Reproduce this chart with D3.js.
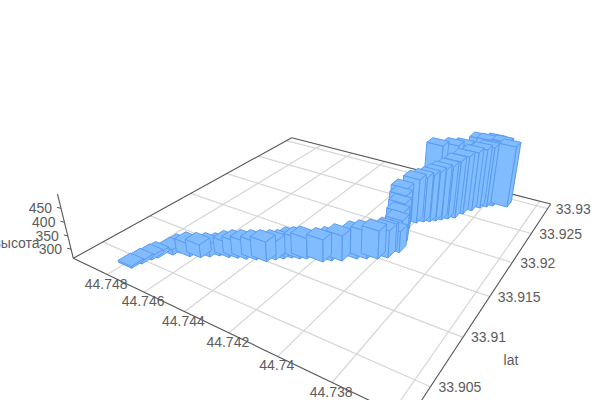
<!DOCTYPE html>
<html><head><meta charset="utf-8"><script src="https://cdn.jsdelivr.net/npm/d3@7"></script>
<style>html,body{margin:0;background:#fff;overflow:hidden}text{font-family:"Liberation Sans",Arial,sans-serif}</style></head>
<body><svg id="c" width="600" height="400"></svg>
<script>
const lon=[44.74792,44.74782,44.7477,44.7476,44.74726,44.74713,44.74661,44.74621,44.74594,44.74566,44.74529,44.74496,44.74463,44.74427,44.74387,44.74364,44.74342,44.74319,44.74289,44.74266,44.74202,44.74177,44.74144,44.74102,44.7407,44.74034,44.74004,
44.74004,44.73985,44.73998,44.74016,44.74031,44.74046,44.74057,44.74026,44.74003,44.73982,44.73963,44.73946,44.73926,44.73904,44.73888,44.73866,44.73844,44.73822,44.73801,44.73745,44.73995,44.73946,44.73912,44.73868,44.73838,44.73811,44.73781];
const lat=[33.90434,33.90514,33.90593,33.90638,33.90731,33.90781,33.90786,33.90821,33.90867,33.90919,33.90942,33.90971,33.90997,33.91031,33.91055,33.91112,33.91156,33.912,33.91223,33.91252,33.91285,33.91333,33.91375,33.91461,33.91502,33.91548,33.91602,
33.91634,33.91718,33.91795,33.9188,33.91968,33.92043,33.92106,33.92204,33.92253,33.92286,33.92324,33.92366,33.92411,33.9246,33.92563,33.9266,33.92746,33.92796,33.92844,33.92894,33.9249,33.92595,33.9266,33.92825,33.92841,33.92898,33.92914];
const height=[272,275,278,280,286,292,313,314,311,307,321,327,331,333,339,333,330,337,341,343,348,348,359,363,367,370,367,
367,345,365,374,386,399,412,436,440,446,455,463,471,487,492,497,499,503,500,507,524,518,514,521,520,517,513];
const lonTicks=[44.748,44.746,44.744,44.742,44.74,44.738,44.736];
const latTicks=[33.905,33.91,33.915,33.92,33.925,33.93];
const zTicks=[300,350,400,450];
const lonLabels=["44.748","44.746","44.744","44.742","44.74","44.738"];
const lonDomain=[44.75,44.7355],latDomain=[33.9022,33.931],zDomain=[265,500];
const dLon=0.00075,dLat=0.0012;
const L=[73.3,258.3],F=[409,419.4],R=[550.7,204],B=[291.7,137.7],VP=[331,1306],kz=-0.0578;
const lonS=d3.scaleLinear().domain(lonDomain).range([0,1]),latS=d3.scaleLinear().domain(latDomain).range([0,1]),zS=d3.scaleLinear().domain(zDomain).range([0,1]);
function homog(x0,y0,x1,y1,x2,y2,x3,y3){const dx1=x1-x2,dx2=x3-x2,sx=x0-x1+x2-x3,dy1=y1-y2,dy2=y3-y2,sy=y0-y1+y2-y3,den=dx1*dy2-dx2*dy1;
 const g=(sx*dy2-dx2*sy)/den,h=(dx1*sy-sx*dy1)/den;return {a:x1-x0+g*x1,b:x3-x0+h*x3,c:x0,d:y1-y0+g*y1,e:y3-y0+h*y3,f:y0,g,h};}
const H=homog(L[0],L[1],F[0],F[1],R[0],R[1],B[0],B[1]);
function proj(lo,la,z){const u=lonS(lo),v=latS(la),q=zS(z)*kz,w=H.g*u+H.h*v+1+q;return [(H.a*u+H.b*v+H.c+q*VP[0])/w,(H.d*u+H.e*v+H.f+q*VP[1])/w];}
const data=lon.map((d,i)=>({lon:d,lat:lat[i],z:height[i]}));
const svg=d3.select("#c");
const line=(a,b,col,sw)=>svg.append("line").attr("x1",a[0]).attr("y1",a[1]).attr("x2",b[0]).attr("y2",b[1]).attr("stroke",col).attr("stroke-width",sw);
lonTicks.forEach(t=>line(proj(t,latDomain[0],zDomain[0]),proj(t,latDomain[1],zDomain[0]),"#d6d6d6",1.2));
latTicks.forEach(t=>line(proj(lonDomain[0],t,zDomain[0]),proj(lonDomain[1],t,zDomain[0]),"#d6d6d6",1.2));
const AX="#555";
[[lonDomain[0],latDomain[0],lonDomain[1],latDomain[0]],[lonDomain[1],latDomain[0],lonDomain[1],latDomain[1]],[lonDomain[1],latDomain[1],lonDomain[0],latDomain[1]],[lonDomain[0],latDomain[1],lonDomain[0],latDomain[0]]].forEach(e=>line(proj(e[0],e[1],zDomain[0]),proj(e[2],e[3],zDomain[0]),AX,1.1));
line(proj(lonDomain[0],latDomain[0],zDomain[0]),proj(lonDomain[0],latDomain[0],zDomain[1]),AX,1.1);
const label=(t,x,y,anc)=>svg.append("text").attr("x",x).attr("y",y).attr("text-anchor",anc).attr("dominant-baseline","central").attr("font-size",14).attr("fill","#5c5c5c").text(t);
lonLabels.forEach((t,i)=>{const p=proj(lonTicks[i],latDomain[0],zDomain[0]);label(t,p[0]-1,p[1]+9,"middle");});
latTicks.forEach(t=>{const p=proj(lonDomain[1],t,zDomain[0]);label(String(t),p[0]+8,p[1],"start");});
zTicks.forEach(t=>{const p=proj(lonDomain[0],latDomain[0],t);line(p,[p[0]-4,p[1]-1],AX,1);label(t,p[0]-9,p[1],"end");});
label("высота",16.5,243,"middle");label("lat",511,360,"middle");
const depth=d=>H.g*lonS(d.lon)+H.h*latS(d.lat);
const path=pts=>"M"+pts.map(p=>p[0].toFixed(2)+","+p[1].toFixed(2)).join("L")+"Z";
data.slice().sort((a,b)=>depth(b)-depth(a)).forEach(d=>{const x0=d.lon+dLon/2,x1=d.lon-dLon/2,y0=d.lat-dLat/2,y1=d.lat+dLat/2,zb=zDomain[0],zt=d.z;
 const faces=[[proj(x0,y0,zb),proj(x1,y0,zb),proj(x1,y0,zt),proj(x0,y0,zt)],[proj(x1,y0,zb),proj(x1,y1,zb),proj(x1,y1,zt),proj(x1,y0,zt)],[proj(x0,y0,zt),proj(x1,y0,zt),proj(x1,y1,zt),proj(x0,y1,zt)]];
 faces.forEach(f=>svg.append("path").attr("d",path(f)).attr("fill","#80bcff").attr("stroke","#5b9cf0").attr("stroke-width",1).attr("stroke-linejoin","round"));});
</script></body></html>
